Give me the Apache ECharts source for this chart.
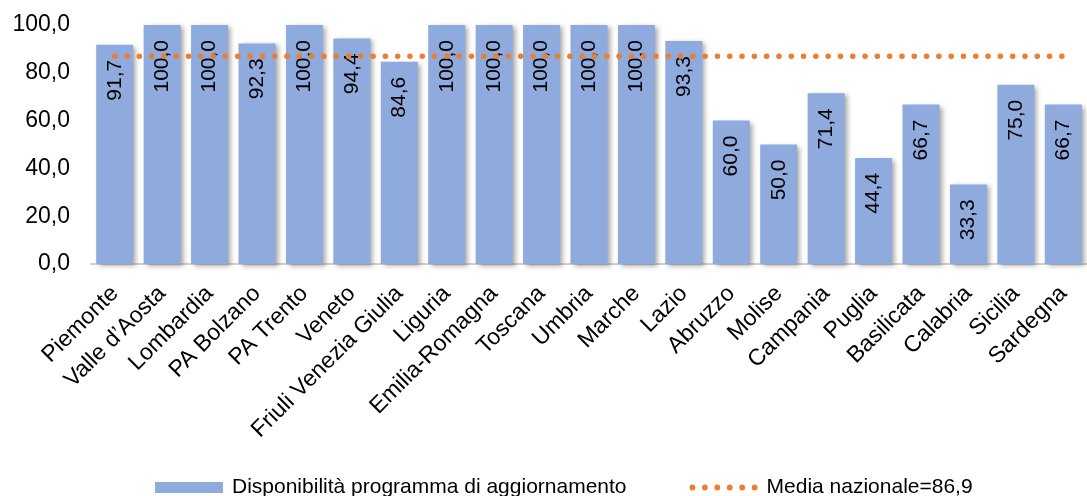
<!DOCTYPE html>
<html>
<head>
<meta charset="utf-8">
<script src="https://cdn.jsdelivr.net/npm/echarts@6/dist/echarts.min.js"></script>
<style>
html,body{margin:0;padding:0;background:#fff;}
#chart{width:1087px;height:496px;}
</style>
</head>
<body>
<div id="chart"></div>
<script>
const categories = ["Piemonte","Valle d’Aosta","Lombardia","PA Bolzano","PA Trento","Veneto","Friuli Venezia Giulia","Liguria","Emilia-Romagna","Toscana","Umbria","Marche","Lazio","Abruzzo","Molise","Campania","Puglia","Basilicata","Calabria","Sicilia","Sardegna"];
const disponibilita = [91.7,100.0,100.0,92.3,100.0,94.4,84.6,100.0,100.0,100.0,100.0,100.0,93.3,60.0,50.0,71.4,44.4,66.7,33.3,75.0,66.7];
const mediaNazionale = 86.9;
const mediaValues = categories.map(() => mediaNazionale);
const yTicks = [0,20,40,60,80,100];

const fmt = v => Number(v).toFixed(1).replace('.', ',');
const FONT = 'Liberation Sans, Arial, sans-serif';

// dotted legend icon: six small circles
function dotsPath(n, r, step) {
  let d = '';
  for (let i = 0; i < n; i++) {
    const cx = r + i * step;
    d += 'M' + (cx - r) + ' ' + r + 'A' + r + ' ' + r + ' 0 1 0 ' + (cx + r) + ' ' + r +
         'A' + r + ' ' + r + ' 0 1 0 ' + (cx - r) + ' ' + r + 'Z';
  }
  return 'path://' + d;
}

const chart = echarts.init(document.getElementById('chart'), null, {renderer:'canvas'});
chart.setOption({
  animation:false,
  backgroundColor:'#fff',
  grid:{left:91, top:25, width:1007, height:239, containLabel:false},
  legend:{
    left:150, top:472,
    itemWidth:68, itemHeight:11, itemGap:63,
    textStyle:{fontFamily:FONT, fontSize:21, color:'#000', padding:[0,0,0,4]},
    data:[
      {name:'Disponibilità programma di aggiornamento', icon:'rect'},
      {name:'Media nazionale=86,9', icon:dotsPath(6, 2.8, 11.9)}
    ]
  },
  xAxis:{
    type:'category',
    data:categories,
    axisTick:{show:false},
    axisLine:{show:true, lineStyle:{color:'#D0D0D0', width:2}},
    axisLabel:{rotate:45, interval:0, margin:26, fontFamily:FONT, fontSize:23, color:'#000'}
  },
  yAxis:{
    type:'value', min:yTicks[0], max:yTicks[yTicks.length-1], interval:20,
    axisLine:{show:false}, axisTick:{show:false}, splitLine:{show:false},
    axisLabel:{margin:21, fontFamily:FONT, fontSize:23, color:'#000', formatter:v=>fmt(v)}
  },
  series:[
    {
      name:'Disponibilità programma di aggiornamento',
      type:'bar',
      data:disponibilita,
      barWidth:37,
      itemStyle:{color:'#8FAADC', shadowColor:'rgba(0,0,0,0.35)', shadowBlur:5, shadowOffsetX:3, shadowOffsetY:2},
      label:{
        show:true, position:'insideTop', rotate:90, align:'right', verticalAlign:'middle',
        distance:15, fontFamily:FONT, fontSize:21, color:'#000',
        formatter:p=>fmt(p.value)
      }
    },
    {
      name:'Media nazionale=86,9',
      type:'line',
      data:mediaValues,
      symbol:'none',
      z:5,
      itemStyle:{color:'#ED7D31'},
      lineStyle:{color:'#ED7D31', width:5.5, type:[0.1,12.2], cap:'round'}
    }
  ]
});
</script>
</body>
</html>
